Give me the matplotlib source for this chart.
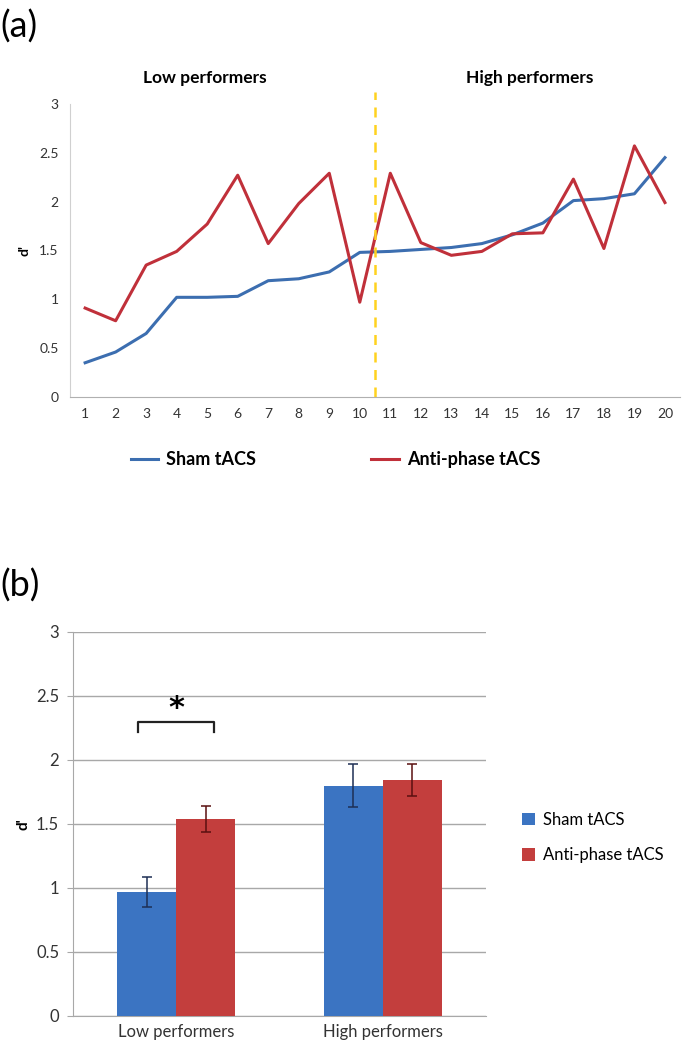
import numpy as np
import matplotlib
matplotlib.use("Agg")
import matplotlib.pyplot as plt

plt.rcParams["font.family"] = ["Lato", "DejaVu Sans"]

# panel (a): individual participants
subjects = list(range(1, 21))
sham_d = [0.35, 0.46, 0.65, 1.02, 1.02, 1.03, 1.19, 1.21, 1.28, 1.48,
          1.49, 1.51, 1.53, 1.57, 1.66, 1.78, 2.01, 2.03, 2.08, 2.45]
anti_d = [0.91, 0.78, 1.35, 1.49, 1.77, 2.27, 1.57, 1.98, 2.29, 0.97,
          2.29, 1.58, 1.45, 1.49, 1.67, 1.68, 2.23, 1.52, 2.57, 1.99]
split_at = 10.5

# panel (b): group means
groups = ["Low performers", "High performers"]
sham_mean = [0.97, 1.80]
sham_err = [0.115, 0.17]
anti_mean = [1.54, 1.84]
anti_err = [0.10, 0.125]

c_line_blue = "#3C6EB0"
c_line_red = "#C0303A"
c_bar_blue = "#3B74C2"
c_bar_red = "#C33E3D"

fig = plt.figure(figsize=(6.85, 10.58), dpi=100)

# ---- (a) ----
ax1 = fig.add_axes([0.102, 0.6248, 0.891, 0.277])
ax1.plot(subjects, sham_d, color=c_line_blue, lw=2.2, label="Sham tACS")
ax1.plot(subjects, anti_d, color=c_line_red, lw=2.2, label="Anti-phase tACS")
ax1.axvline(split_at, ymin=0, ymax=1.04, color="#FFD21F", ls=(0, (4, 3)),
            lw=1.8, clip_on=False)
ax1.set_xlim(0.5, 20.5)
ax1.set_ylim(0, 3)
ax1.set_xticks(subjects)
ax1.set_yticks(np.arange(0, 3.01, 0.5))
ax1.set_yticklabels(["0", "0.5", "1", "1.5", "2", "2.5", "3"])
ax1.tick_params(length=0, labelsize=10, colors="#333333", pad=8)
for s in ["top", "right"]:
    ax1.spines[s].set_visible(False)
ax1.spines["left"].set_color("#D0D0D0")
ax1.spines["bottom"].set_color("#B0B0B0")
ax1.set_ylabel("d'", fontsize=10, fontweight="bold", labelpad=6)
ax1.text(0.221, 1.09, "Low performers", transform=ax1.transAxes,
         ha="center", va="center", fontsize=12.5, fontweight="bold")
ax1.text(0.754, 1.09, "High performers", transform=ax1.transAxes,
         ha="center", va="center", fontsize=12.5, fontweight="bold")
ax1.legend(loc="center", bbox_to_anchor=(0.435, -0.215), ncol=2,
           frameon=False, handlelength=1.5, columnspacing=6.4,
           handletextpad=0.45, prop={"weight": "bold", "size": 13})
fig.text(0.0, 0.975, "(a)", fontsize=26, va="center", ha="left")

# ---- (b) ----
ax2 = fig.add_axes([0.1066, 0.0397, 0.603, 0.363])
x = np.arange(len(groups))
w = 0.286
ax2.bar(x - w / 2, sham_mean, w, color=c_bar_blue, label="Sham tACS",
        zorder=3)
ax2.bar(x + w / 2, anti_mean, w, color=c_bar_red, label="Anti-phase tACS",
        zorder=3)
ax2.errorbar(x - w / 2, sham_mean, yerr=sham_err, fmt="none",
             ecolor="#1E2F55", elinewidth=1.1, capsize=3.5, capthick=1.1,
             zorder=4)
ax2.errorbar(x + w / 2, anti_mean, yerr=anti_err, fmt="none",
             ecolor="#5A1010", elinewidth=1.1, capsize=3.5, capthick=1.1,
             zorder=4)
ax2.set_xlim(-0.5, 1.5)
ax2.set_ylim(0, 3)
ax2.set_yticks(np.arange(0, 3.01, 0.5))
ax2.set_yticklabels(["0", "0.5", "1", "1.5", "2", "2.5", "3"])
ax2.set_xticks(x)
ax2.set_xticklabels(groups)
ax2.yaxis.grid(True, color="#A8A8A8", lw=1.0, zorder=0)
ax2.tick_params(axis="y", length=4, color="#A8A8A8", labelsize=12,
                colors="#333333", pad=6)
ax2.tick_params(axis="x", length=0, labelsize=12, colors="#333333", pad=6)
for s in ["top", "right"]:
    ax2.spines[s].set_visible(False)
ax2.spines["left"].set_color("#A8A8A8")
ax2.spines["bottom"].set_color("#A8A8A8")
ax2.set_ylabel("d'", fontsize=11, fontweight="bold", labelpad=4)

# significance bracket
bx0, bx1 = x[0] - w * 0.64, x[0] + w * 0.64
ax2.plot([bx0, bx0, bx1, bx1], [2.215, 2.30, 2.30, 2.215], color="#222222",
         lw=1.6, zorder=5)
ax2.text(x[0], 2.40, "*", ha="center", va="center", fontsize=22,
         fontweight="bold", family="DejaVu Sans")

ax2.legend(loc="center left", bbox_to_anchor=(1.05, 0.465), frameon=False,
           handlelength=0.8, handleheight=0.8, handletextpad=0.5,
           labelspacing=1.15, fontsize=12)
fig.text(0.0, 0.447, "(b)", fontsize=26, va="center", ha="left")

fig.savefig("out.png", dpi=100)
